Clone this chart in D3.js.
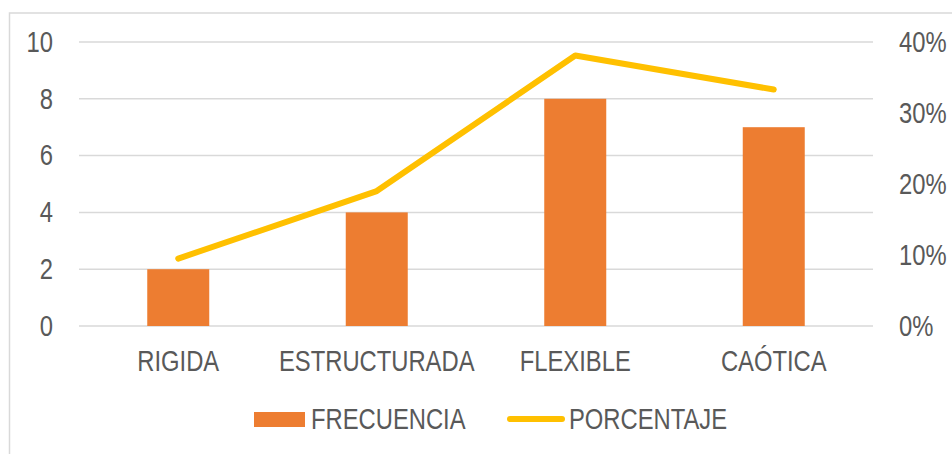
<!DOCTYPE html>
<html><head><meta charset="utf-8">
<script src="https://cdn.jsdelivr.net/npm/d3@7"></script>
<style>
body{margin:0;background:#fff;}
text{font-family:"Liberation Sans Narrow","Arial Narrow","Liberation Sans",Arial,sans-serif;fill:#595959;font-size:29px;}
</style></head>
<body><svg id="c" width="952" height="454"></svg>
<script>
const categories = ["RIGIDA","ESTRUCTURADA","FLEXIBLE","CAÓTICA"];
const frecuencia = [2,4,8,7];
const porcentaje = [0.095,0.19,0.381,0.333];
const leftTicks = [0,2,4,6,8,10];
const rightTicks = [0,0.1,0.2,0.3,0.4];
const seriesNames = ["FRECUENCIA","PORCENTAJE"];

const svg = d3.select("#c");
svg.append("rect").attr("x",9.5).attr("y",13).attr("width",960).attr("height",460)
  .attr("fill","none").attr("stroke","#d9d9d9").attr("stroke-width",1.5);

const x0=79, x1=873, yTop=42, yBot=326;
const x = d3.scaleBand().domain(categories).range([x0,x1]).paddingInner(0).paddingOuter(0);
const yL = d3.scaleLinear().domain([0,10]).range([yBot,yTop]);
const yR = d3.scaleLinear().domain([0,0.4]).range([yBot,yTop]);

// gridlines
svg.append("g").selectAll("line").data(leftTicks).join("line")
  .attr("x1",x0).attr("x2",x1).attr("y1",d=>yL(d)).attr("y2",d=>yL(d))
  .attr("stroke","#d9d9d9").attr("stroke-width",1.5);

// left axis
const gl = svg.append("g").attr("transform",`translate(53,0)`)
  .call(d3.axisLeft(yL).tickValues(leftTicks).tickSize(0).tickPadding(0));
gl.select(".domain").remove();
gl.attr("font-family",null).attr("font-size",null);
gl.selectAll("text").attr("fill",null);

// right axis
const gr = svg.append("g").attr("transform",`translate(899,0)`)
  .call(d3.axisRight(yR).tickValues(rightTicks).tickFormat(d3.format(".0%")).tickSize(0).tickPadding(0));
gr.select(".domain").remove();
gr.attr("font-family",null).attr("font-size",null);
gr.selectAll("text").attr("fill",null);

// bottom axis
const gb = svg.append("g").attr("transform",`translate(0,${yBot})`)
  .call(d3.axisBottom(x).tickSize(0).tickPadding(24));
gb.select(".domain").remove();
gb.attr("font-family",null).attr("font-size",null);
gb.selectAll("text").attr("fill",null).attr("dy","0.71em");

// bars
const bw = 62;
svg.append("g").selectAll("rect").data(frecuencia).join("rect")
  .attr("x",(d,i)=>x(categories[i])+x.bandwidth()/2-bw/2)
  .attr("width",bw)
  .attr("y",d=>yL(d)).attr("height",d=>yBot-yL(d))
  .attr("fill","#ED7D31");

// line
const line = d3.line().x((d,i)=>x(categories[i])+x.bandwidth()/2).y(d=>yR(d));
svg.append("path").datum(porcentaje).attr("d",line)
  .attr("fill","none").attr("stroke","#FFC000").attr("stroke-width",6)
  .attr("stroke-linecap","round").attr("stroke-linejoin","round");

// legend
const lg = svg.append("g");
lg.append("rect").attr("x",254).attr("y",412).attr("width",51).attr("height",15).attr("fill","#ED7D31");
lg.append("text").attr("x",311).attr("y",419).attr("dy","0.36em").text(seriesNames[0]);
lg.append("line").attr("x1",510).attr("x2",562).attr("y1",419).attr("y2",419)
  .attr("stroke","#FFC000").attr("stroke-width",6).attr("stroke-linecap","round");
lg.append("text").attr("x",569).attr("y",419).attr("dy","0.36em").text(seriesNames[1]);

// condense text to mimic a narrow font
svg.selectAll("text").each(function(){
  const w = this.getComputedTextLength();
  d3.select(this).attr("textLength", w*0.82).attr("lengthAdjust","spacingAndGlyphs");
});
</script></body></html>
